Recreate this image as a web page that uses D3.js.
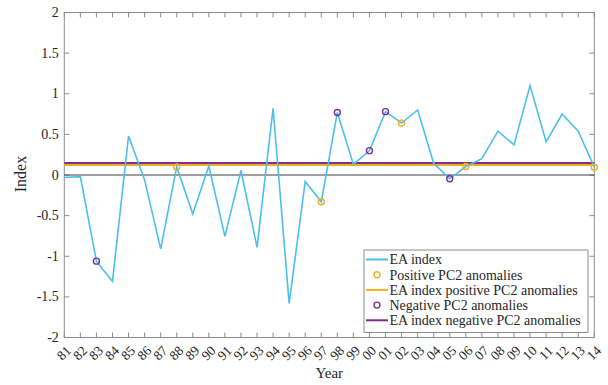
<!DOCTYPE html>
<html>
<head>
<meta charset="utf-8">
<script src="https://cdn.jsdelivr.net/npm/d3@7"></script>
<style>
  html, body { margin: 0; padding: 0; background: #fff; }
  svg { display: block; }
  text { font-family: "Liberation Serif", "DejaVu Serif", serif; fill: #262626; }
</style>
</head>
<body>
<svg id="chart" width="608" height="385"></svg>
<script>
// EA index, 1981–2014
const years = d3.range(1981, 2015);
const eaIndex = [-0.03, -0.02, -1.06, -1.31, 0.48, -0.06, -0.91, 0.10, -0.48, 0.11,
                 -0.755, 0.055, -0.89, 0.82, -1.58, -0.08, -0.33, 0.77, 0.13, 0.30,
                 0.78, 0.64, 0.80, 0.145, -0.047, 0.104, 0.20, 0.54, 0.37, 1.10,
                 0.41, 0.75, 0.54, 0.096];
// Years with positive / negative PC2 anomalies
const positiveYears = [1988, 1997, 2002, 2006, 2014];
const negativeYears = [1983, 1998, 2000, 2001, 2005];
const yTicks = [-2, -1.5, -1, -0.5, 0, 0.5, 1, 1.5, 2];
const legendLabels = ["EA index", "Positive PC2 anomalies", "EA index positive PC2 anomalies",
                      "Negative PC2 anomalies", "EA index negative PC2 anomalies"];

const colors = { ea: "#4DBEEE", pos: "#EDB120", neg: "#7E2F8E" };

const valueOf = y => eaIndex[years.indexOf(y)];
const posMean = d3.mean(positiveYears, valueOf);
const negMean = d3.mean(negativeYears, valueOf);

const svg = d3.select("#chart");
const m = { left: 64.3, right: 594.3, top: 12.5, bottom: 337.5 };

const x = d3.scaleLinear().domain([1981, 2014]).range([m.left, m.right]);
const y = d3.scaleLinear().domain([-2, 2]).range([m.bottom, m.top]);

const axisColor = "#8c8c8c";
const tickLen = 5;

// Box and ticks
const g = svg.append("g");
g.append("rect").attr("x", m.left).attr("y", m.top)
  .attr("width", m.right - m.left).attr("height", m.bottom - m.top)
  .attr("fill", "none").attr("stroke", axisColor).attr("stroke-width", 1);

years.forEach(yr => {
  const px = x(yr);
  g.append("line").attr("x1", px).attr("x2", px).attr("y1", m.bottom).attr("y2", m.bottom - tickLen)
    .attr("stroke", axisColor);
  g.append("line").attr("x1", px).attr("x2", px).attr("y1", m.top).attr("y2", m.top + tickLen)
    .attr("stroke", axisColor);
  g.append("text")
    .attr("transform", `translate(${px + 7.6},${m.bottom + 14}) rotate(-45)`)
    .attr("text-anchor", "end")
    .attr("font-size", 13.5)
    .text(String(yr % 100).padStart(2, "0"));
});

yTicks.forEach(v => {
  const py = y(v);
  g.append("line").attr("x1", m.left).attr("x2", m.left + tickLen).attr("y1", py).attr("y2", py)
    .attr("stroke", axisColor);
  g.append("line").attr("x1", m.right).attr("x2", m.right - tickLen).attr("y1", py).attr("y2", py)
    .attr("stroke", axisColor);
  g.append("text").attr("x", m.left - 5.5).attr("y", py).attr("dy", "0.33em")
    .attr("text-anchor", "end").attr("font-size", 14)
    .text(String(v));
});

// Axis titles
svg.append("text").attr("x", (m.left + m.right) / 2).attr("y", 378)
  .attr("text-anchor", "middle").attr("font-size", 15).text("Year");
svg.append("text").attr("transform", `translate(26,174) rotate(-90)`)
  .attr("text-anchor", "middle").attr("font-size", 16).text("Index");

// Zero line
svg.append("line").attr("x1", m.left).attr("x2", m.right).attr("y1", y(0)).attr("y2", y(0))
  .attr("stroke", "#404040").attr("stroke-width", 1.2);

// Mean lines for positive / negative anomaly years
svg.append("line").attr("x1", m.left).attr("x2", m.right).attr("y1", y(posMean)).attr("y2", y(posMean))
  .attr("stroke", colors.pos).attr("stroke-width", 2);
svg.append("line").attr("x1", m.left).attr("x2", m.right).attr("y1", y(negMean)).attr("y2", y(negMean))
  .attr("stroke", colors.neg).attr("stroke-width", 2);

// EA index series
const line = d3.line().x((d, i) => x(years[i])).y(d => y(d));
svg.append("path").datum(eaIndex).attr("d", line)
  .attr("fill", "none").attr("stroke", colors.ea).attr("stroke-width", 1.6)
  .attr("stroke-linejoin", "miter");

// Anomaly markers
svg.selectAll(".pos").data(positiveYears).join("circle")
  .attr("cx", d => x(d)).attr("cy", d => y(valueOf(d))).attr("r", 3)
  .attr("fill", "none").attr("stroke", colors.pos).attr("stroke-width", 1.4);
svg.selectAll(".neg").data(negativeYears).join("circle")
  .attr("cx", d => x(d)).attr("cy", d => y(valueOf(d))).attr("r", 3)
  .attr("fill", "none").attr("stroke", colors.neg).attr("stroke-width", 1.4);

// Legend
const lg = svg.append("g").attr("transform", "translate(364,250)");
lg.append("rect").attr("width", 224).attr("height", 82.5)
  .attr("fill", "#fff").attr("stroke", axisColor).attr("stroke-width", 1);
const kinds = ["line", "circle", "line", "circle", "line"];
const kindColors = [colors.ea, colors.pos, colors.pos, colors.neg, colors.neg];
legendLabels.forEach((lab, i) => {
  const cy = 9.5 + i * 15.2;
  if (kinds[i] === "line") {
    lg.append("line").attr("x1", 2).attr("x2", 24).attr("y1", cy).attr("y2", cy)
      .attr("stroke", kindColors[i]).attr("stroke-width", 2);
  } else {
    lg.append("circle").attr("cx", 13).attr("cy", cy).attr("r", 3)
      .attr("fill", "none").attr("stroke", kindColors[i]).attr("stroke-width", 1.4);
  }
  lg.append("text").attr("x", 25.5).attr("y", cy).attr("dy", "0.35em")
    .attr("font-size", 14).text(lab);
});
</script>
</body>
</html>
